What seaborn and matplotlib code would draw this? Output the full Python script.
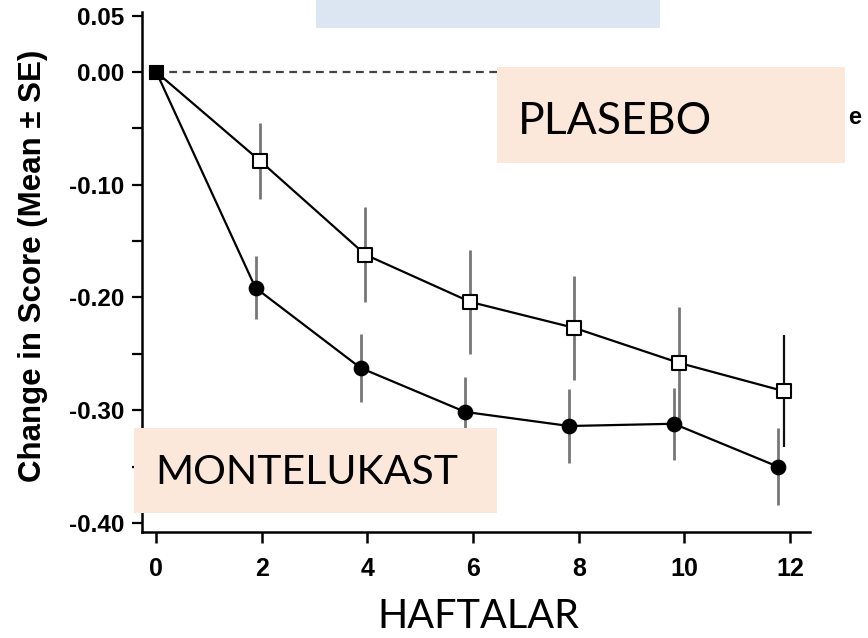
import matplotlib
matplotlib.use("Agg")
import matplotlib.pyplot as plt
from matplotlib.patches import Rectangle
from matplotlib.ticker import MultipleLocator
import seaborn as sns
import pandas as pd

# ---- data ----
placebo_weeks = [0, 1.97, 3.96, 5.95, 7.92, 9.90, 11.88]
placebo_mean = [0.0, -0.079, -0.162, -0.204, -0.227, -0.258, -0.283]
placebo_se = [0.0, 0.034, 0.042, 0.046, 0.046, 0.050, 0.050]

monte_weeks = [0, 1.88, 3.87, 5.85, 7.82, 9.80, 11.77]
monte_mean = [0.0, -0.1915, -0.2625, -0.3015, -0.314, -0.312, -0.350]
monte_se = [0.0, 0.028, 0.030, 0.031, 0.033, 0.032, 0.034]

x_ticks = [0, 2, 4, 6, 8, 10, 12]
y_ticks = [0.05, 0.00, -0.10, -0.20, -0.30, -0.40]
y_ticklabels = ["0.05", "0.00", "-0.10", "-0.20", "-0.30", "-0.40"]

x_label = "HAFTALAR"
y_label = "Change in Score (Mean \u00b1 SE)"
placebo_label = "PLASEBO"
monte_label = "MONTELUKAST"

sns.set_theme(style="ticks")
plt.rcParams["font.family"] = ["Liberation Sans", "DejaVu Sans"]
plt.rcParams["text.color"] = "black"
plt.rcParams["axes.labelcolor"] = "black"
plt.rcParams["xtick.color"] = "black"
plt.rcParams["ytick.color"] = "black"

W, H = 868, 638
fig = plt.figure(figsize=(W / 100, H / 100), dpi=100)
ax = fig.add_axes([142 / W, 1 - 532 / H, (810 - 142) / W, (532 - 12) / H])

pl = pd.DataFrame({"week": placebo_weeks, "score": placebo_mean, "se": placebo_se})
mo = pd.DataFrame({"week": monte_weeks, "score": monte_mean, "se": monte_se})

# reference dashed line at zero
ax.hlines(0, placebo_weeks[0], placebo_weeks[-1], colors="#444444",
          linestyles=(0, (3.5, 2.5)), linewidth=1.6, zorder=1)

# error bars
eb_p = ax.errorbar(pl["week"][1:], pl["score"][1:], yerr=pl["se"][1:], fmt="none",
                   ecolor="#777777", elinewidth=2.0, capsize=0, zorder=2)
eb_p[2][0].set_color(["#777777"] * 5 + ["#111111"])
eb_p[2][0].set_linewidth([2.0] * 5 + [1.6])
ax.errorbar(mo["week"][1:], mo["score"][1:], yerr=mo["se"][1:], fmt="none",
            ecolor="#777777", elinewidth=2.0, capsize=0, zorder=2)

# lines
sns.lineplot(data=pl, x="week", y="score", color="black", linewidth=1.6,
             ax=ax, zorder=3, sort=False)
sns.lineplot(data=mo, x="week", y="score", color="black", linewidth=1.6,
             ax=ax, zorder=3, sort=False)

# markers
sns.scatterplot(data=pl.iloc[1:], x="week", y="score", marker="s", s=90,
                facecolor="white", edgecolor="black", linewidth=1.5,
                ax=ax, zorder=4)
sns.scatterplot(data=mo.iloc[1:], x="week", y="score", marker="o", s=110,
                color="black", edgecolor="black", ax=ax, zorder=4)
sns.scatterplot(data=pl.iloc[:1], x="week", y="score", marker="s", s=100,
                color="black", edgecolor="black", ax=ax, zorder=5)

ax.set_xlim(-0.27, 12.38)
ax.set_ylim(-0.408, 0.0532)
ax.set_xticks(x_ticks)
ax.set_xticklabels([str(t) for t in x_ticks], fontsize=18, fontweight="bold")
ax.set_yticks(y_ticks)
ax.set_yticklabels(y_ticklabels, fontsize=17.5, fontweight="bold")
ax.yaxis.set_minor_locator(MultipleLocator(0.05))
ax.tick_params(axis="y", which="both", direction="out", length=7,
               width=1.6, color="black", pad=6)
ax.tick_params(axis="x", which="both", direction="out", length=8,
               width=1.8, color="black", pad=10)
ax.set_xlabel("")
ax.set_ylabel(y_label, fontsize=22.5, fontweight="bold")
ax.yaxis.set_label_coords(48 / W, 1 - 266 / H, transform=fig.transFigure)
for side in ["top", "right"]:
    ax.spines[side].set_visible(False)
for side in ["left", "bottom"]:
    ax.spines[side].set_linewidth(1.8)
    ax.spines[side].set_color("black")

# overlay boxes (figure pixel coordinates)
def box(x0, y0, x1, y1, color):
    fig.patches.append(Rectangle((x0 / W, 1 - y1 / H), (x1 - x0) / W, (y1 - y0) / H,
                                 transform=fig.transFigure, facecolor=color,
                                 edgecolor="none", zorder=5))

box(316, -2, 660, 28, "#DCE6F2")
box(497, 67, 845, 163, "#FCE8DB")
box(134, 428, 497, 513, "#FCE8DB")

fig.text(518 / W, 1 - 121 / H, placebo_label, fontsize=32, family="Lato",
         va="center", ha="left", zorder=6)
fig.text(155 / W, 1 - 473 / H, monte_label, fontsize=29.5, family="Lato",
         va="center", ha="left", zorder=6)
fig.text(478 / W, 1 - 616 / H, x_label, fontsize=28.5, family="Lato",
         va="center", ha="center", zorder=6)
fig.text(848 / W, 1 - 118 / H, "e", fontsize=17, fontweight="bold",
         va="center", ha="left", zorder=6)

fig.savefig("out.png", dpi=100)
